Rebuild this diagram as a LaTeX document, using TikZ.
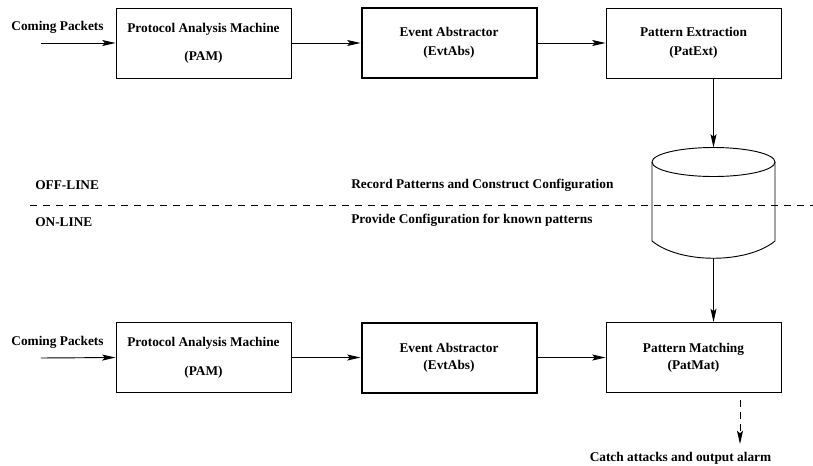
\documentclass[tikz,border=0pt]{standalone}
\usepackage{fontspec}
\setmainfont{Liberation Serif}
\usetikzlibrary{arrows.meta}
\begin{document}
\begin{tikzpicture}[x=0.75pt,y=-0.75pt,
        font=\bfseries\fontsize{10}{12}\selectfont,
        arr/.style={-{Stealth[length=10pt,width=4.5pt,inset=2pt]},line width=0.7pt},
        darr/.style={arr,dash pattern=on 5pt off 4pt}]
        \useasboundingbox (0,0) rectangle (813,465);
        \begin{scope}[every node/.style={rectangle,draw,line width=0.7pt,minimum width=131.25pt,minimum height=52.5pt,align=center,inner sep=0pt}]
            \node (PAM1) at (203.5,43) {Protocol Analysis Machine\\[9pt](PAM)};
            \node[line width=1.5pt] (EVT1) at (449,43) {Event Abstractor\\[2.25pt](EvtAbs)};
            \node (PEX) at (693.5,43) {Pattern Extraction\\[2.25pt](PatExt)};
            \node (PAM2) at (203.5,357.5) {Protocol Analysis Machine\\[9.75pt](PAM)};
            \node[line width=1.5pt] (EVT2) at (449,357.5) {Event Abstractor\\[0.75pt](EvtAbs)};
            \node (PMA) at (693.5,357.5) {Pattern Matching\\[0.75pt](PatMat)};
        \end{scope}
        % pattern database
        \begin{scope}[line width=0.7pt]
            \draw (713.5,162) ellipse [x radius=61.5,y radius=14.5];
            \draw (652,162) -- (652,241) .. controls (680,264) and (747,264) .. (775,241) -- (775,162);
        \end{scope}
        \coordinate (DBtop) at (713.5,147.5);
        \coordinate (DBbot) at (713.5,258);
        \begin{scope}[every node/.style={inner sep=0pt}]
            \node[anchor=west] (OFF) at (35,185) {OFF-LINE};
            \node[anchor=west] (ON) at (35,222) {ON-LINE};
            \node[anchor=west] (REC) at (351,185) {Record Patterns and Construct Configuration};
            \node[anchor=west] (PRO) at (351,220) {Provide Configuration for known patterns};
            \node (IN1) at (57.5,27) {Coming Packets};
            \node (IN2) at (57.5,342) {Coming Packets};
            \node (OUT) at (680.5,458) {Catch attacks and output alarm};
        \end{scope}
        \draw[line width=0.7pt,dash pattern=on 5.25pt off 4.5pt] (30,205) -- (813,205);
        \coordinate (S1) at (41,43);
        \coordinate (S2) at (41,358);
        \coordinate (T) at (740,444);
        \draw[arr] (S1) -- (PAM1.west);
        \draw[arr] (PAM1.east) -- (EVT1.west);
        \draw[arr] (EVT1.east) -- (PEX.west);
        \draw[arr] (PEX.south -| DBtop) -- (DBtop);
        \draw[arr] (DBbot) -- (DBbot |- PMA.north);
        \draw[arr] (S2) -- (PAM2.west);
        \draw[arr] (PAM2.east) -- (EVT2.west);
        \draw[arr] (EVT2.east) -- (PMA.west);
        \draw[darr,shorten <=5.25pt] (PMA.south -| T) -- (T);
    \end{tikzpicture}
\end{document}
